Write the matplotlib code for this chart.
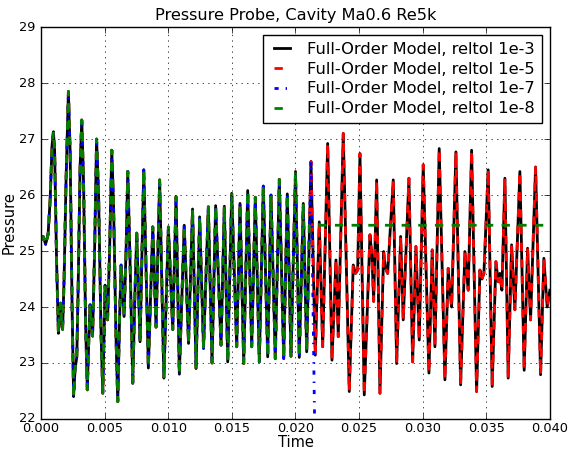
import numpy as np
import matplotlib
matplotlib.use("Agg")
import matplotlib.pyplot as plt

plt.style.use('classic')

# time in ms, pressure (reltol 1e-3 / 1e-5 follow this)
t_ms = [0.000, 0.157, 0.354, 0.550, 0.707, 0.864, 0.967, 1.061, 1.218, 1.360,
        1.454, 1.532, 1.611, 1.690, 1.807, 1.965, 2.145, 2.279, 2.436, 2.554,
        2.672, 2.805, 2.908, 3.065, 3.198, 3.340, 3.497, 3.631, 3.733, 3.851,
        3.929, 4.047, 4.204, 4.361, 4.519, 4.715, 4.849, 4.951, 5.029, 5.147,
        5.226, 5.383, 5.556, 5.697, 5.894, 6.027, 6.169, 6.287, 6.405, 6.523,
        6.680, 6.813, 6.994, 7.206, 7.371, 7.520, 7.780, 8.071, 8.432, 8.778,
        9.037, 9.320, 9.650, 10.004, 10.350, 10.609, 10.868, 11.253, 11.591, 11.906,
        12.181, 12.464, 12.770, 13.147, 13.438, 13.721, 14.145, 14.405, 14.672, 14.986,
        15.379, 15.638, 15.929, 16.243, 16.558, 16.841, 17.155, 17.469, 17.815, 18.075,
        18.412, 18.727, 19.073, 19.356, 19.646, 20.000, 20.298, 20.613, 20.880, 21.218,
        21.556, 21.870, 22.138, 22.530, 22.868, 23.183, 23.363, 23.756, 24.228, 24.542,
        24.715, 24.888, 25.069, 25.407, 25.855, 26.012, 26.145, 26.381, 26.640, 26.931,
        27.073, 27.245, 27.686, 27.953, 28.267, 28.471, 28.919, 29.210, 29.469, 29.729,
        30.043, 30.491, 30.750, 30.962, 31.300, 31.748, 32.008, 32.141, 32.275, 32.613,
        32.982, 33.320, 33.579, 33.846, 34.239, 34.499, 34.656, 34.813, 35.151, 35.466,
        35.756, 35.937, 36.071, 36.228, 36.464, 36.723, 36.990, 37.249, 37.642, 37.980,
        38.247, 38.483, 38.876, 39.269, 39.528, 39.788, 40.000]
pressure = [25.20, 25.26, 25.12, 25.30, 25.90, 26.90, 27.13, 26.80, 24.80, 23.53,
            23.90, 24.07, 23.70, 23.60, 24.50, 26.30, 27.85, 26.80, 24.00, 22.40,
            22.90, 23.10, 24.30, 26.50, 27.34, 26.20, 23.70, 22.52, 23.30, 24.04,
            23.70, 23.48, 25.00, 27.00, 26.00, 23.50, 22.46, 23.60, 24.39, 23.90,
            23.77, 25.00, 26.80, 25.80, 23.40, 22.31, 23.80, 24.75, 24.30, 23.83,
            25.00, 26.42, 24.80, 22.64, 24.20, 25.32, 23.38, 26.45, 22.91, 25.43,
            23.64, 26.27, 22.73, 25.43, 23.60, 25.97, 22.80, 25.46, 23.35, 25.75,
            22.90, 25.61, 23.26, 25.79, 23.00, 25.81, 23.32, 25.80, 23.02, 26.03,
            23.29, 25.85, 22.99, 26.08, 23.29, 25.96, 23.02, 26.16, 23.11, 26.00,
            23.08, 26.28, 23.08, 26.02, 23.12, 26.42, 23.10, 25.85, 23.20, 26.60,
            23.14, 25.52, 23.29, 26.92, 23.05, 24.84, 23.47, 27.10, 22.49, 24.75,
            24.60, 24.66, 26.74, 22.43, 25.29, 24.90, 24.10, 26.27, 22.46, 24.99,
            24.70, 24.60, 26.27, 22.99, 25.26, 23.77, 26.30, 23.02, 25.08, 23.41,
            26.54, 22.82, 25.02, 23.29, 26.83, 22.70, 24.69, 24.30, 24.00, 26.77,
            22.61, 24.99, 24.30, 26.80, 22.49, 24.66, 24.50, 24.60, 26.45, 22.58,
            24.81, 24.45, 24.60, 24.30, 26.30, 22.73, 25.11, 23.95, 26.42, 22.87,
            25.05, 23.77, 26.50, 22.79, 24.87, 24.00, 24.30]

# reltol 1e-7 breaks down after the peak near 21.2 ms
blue_t_ms = [21.218, 21.50, 21.60]
blue_p = [26.60, 22.00, 15.00]
# reltol 1e-8 freezes at a constant value after ~21 ms
green_t_ms = [21.08, 40.00]
green_p = [25.46, 25.46]

t = np.array(t_ms) * 1e-3
p = np.array(pressure)
i_blue = t_ms.index(21.218) + 1
i_green = t_ms.index(20.880) + 1
tb = np.concatenate([t[:i_blue], np.array(blue_t_ms[1:]) * 1e-3])
pb = np.concatenate([p[:i_blue], blue_p[1:]])
tg = np.concatenate([t[:i_green], np.array(green_t_ms) * 1e-3])
pg = np.concatenate([p[:i_green], green_p])

fig = plt.figure(figsize=(5.71, 4.51), dpi=100, facecolor='white')
ax = fig.add_axes([0.072, 0.071, 0.891, 0.869])
ax.plot(t, p, color='black', lw=2, label='Full-Order Model, reltol 1e-3')
ax.plot(t, p, 'r--', lw=2, label='Full-Order Model, reltol 1e-5')
ax.plot(tb, pb, 'b-.', lw=2, label='Full-Order Model, reltol 1e-7')
ax.plot(tg, pg, 'g--', lw=2, label='Full-Order Model, reltol 1e-8')

ax.set_xlim(0, 0.04)
ax.set_ylim(22, 29)
ax.set_xticks(np.arange(0, 0.0401, 0.005))
ax.set_xticklabels(['%.3f' % v for v in np.arange(0, 0.0401, 0.005)])
ax.tick_params(labelsize=9.3)
ax.tick_params(axis='x', pad=2)
ax.grid(True)
ax.set_title('Pressure Probe, Cavity Ma0.6 Re5k', fontsize=11.6)
ax.set_xlabel('Time', fontsize=10.5, labelpad=0)
ax.set_ylabel('Pressure', fontsize=10.5, labelpad=2)
leg = ax.legend(loc='upper right', fontsize=11.7, handlelength=1.55,
                borderaxespad=0.5, fancybox=False, labelspacing=0.3)
leg.get_frame().set_edgecolor('black')

fig.savefig('out.png', dpi=100, facecolor='white')
